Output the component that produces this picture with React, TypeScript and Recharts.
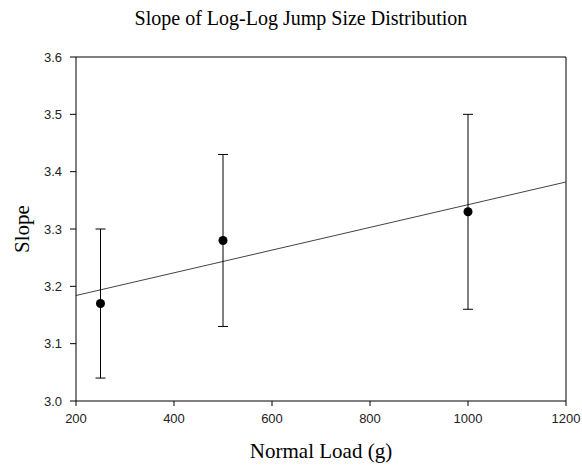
import {
  ComposedChart, Scatter, Line, XAxis, YAxis, ErrorBar, ReferenceLine, Label,
} from 'recharts';

const LOADS = [250, 500, 1000];
const SLOPES = [3.17, 3.28, 3.33];
const ERRORS = [0.13, 0.15, 0.17];

// fitted line endpoints
const FIT_X = [200, 1200];
const FIT_Y = [3.184, 3.382];

const X_TICKS = [200, 400, 600, 800, 1000, 1200];
const Y_TICKS = [3.0, 3.1, 3.2, 3.3, 3.4, 3.5, 3.6];

const points = LOADS.map((x, i) => ({ x, y: SLOPES[i], err: ERRORS[i] }));
const fit = FIT_X.map((x, i) => ({ x, y: FIT_Y[i] }));

const tickStyle = { fill: '#222', fontSize: 13, fontFamily: 'Liberation Sans, Arial, sans-serif' };
const serif = 'Liberation Serif, Times New Roman, serif';

export default function App() {
  return (
    <div style={{ position: 'absolute', left: 0, top: 0, width: 582, height: 465, background: '#fff' }}>
      <div
        style={{
          position: 'absolute', top: 7, left: 10, width: 582, textAlign: 'center',
          fontFamily: serif, fontSize: 20, color: '#000', lineHeight: '23px',
        }}
      >
        Slope of Log-Log Jump Size Distribution
      </div>
      <ComposedChart width={582} height={465} margin={{ top: 57, right: 16, bottom: 34, left: 16 }}>
        <XAxis
          type="number"
          dataKey="x"
          domain={[200, 1200]}
          ticks={X_TICKS}
          allowDataOverflow
          stroke="#000"
          tickSize={5}
          tickMargin={8}
          tick={tickStyle}
          height={30}
        >
          <Label value="Normal Load (g)" position="bottom" offset={12} style={{ fontFamily: serif, fontSize: 21, fill: '#000' }} />
        </XAxis>
        <YAxis
          type="number"
          domain={[3.0, 3.6]}
          ticks={Y_TICKS}
          tickFormatter={(v: number) => v.toFixed(1)}
          allowDataOverflow
          stroke="#000"
          tickSize={6}
          tickMargin={8}
          tick={tickStyle}
          width={60}
        >
          <Label value="Slope" angle={-90} position="insideLeft" offset={6} style={{ fontFamily: serif, fontSize: 21, fill: '#000', textAnchor: 'middle' }} />
        </YAxis>
        <ReferenceLine y={3.6} stroke="#000" />
        <ReferenceLine x={1200} stroke="#000" />
        <Line
          data={fit}
          dataKey="y"
          stroke="#444"
          strokeWidth={1}
          dot={false}
          activeDot={false}
          isAnimationActive={false}
        />
        <Scatter data={points} dataKey="y" fill="#000" isAnimationActive={false}
          shape={(p: any) => <circle cx={p.cx} cy={p.cy} r={4.5} fill="#000" />}
        >
          <ErrorBar dataKey="err" direction="y" width={5} stroke="#000" strokeWidth={1} isAnimationActive={false} />
        </Scatter>
      </ComposedChart>
    </div>
  );
}
